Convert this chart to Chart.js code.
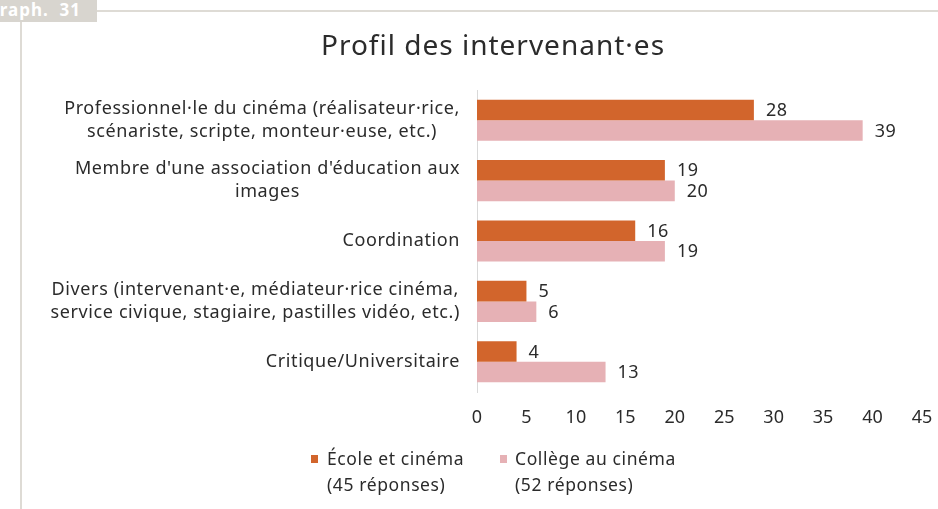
<!DOCTYPE html>
<html>
<head>
<meta charset="utf-8">
<script src="https://cdn.jsdelivr.net/npm/chart.js@4/dist/chart.umd.min.js"></script>
<style>
  html, body { margin: 0; padding: 0; background: #ffffff; }
  #wrap { position: relative; width: 938px; height: 509px; overflow: hidden; }
  #chart { position: absolute; left: 0; top: 0; }
  .tab { position: absolute; left: 0; top: 0; width: 97px; height: 22px; background: #d8d5cf; overflow: hidden; }
  .tab span { position: absolute; right: 16px; top: 0px; color: #ffffff; font: bold 17px "Noto Sans", sans-serif; line-height: 20px; white-space: nowrap; letter-spacing: 1px; }
  .hline { position: absolute; left: 97px; top: 10px; width: 841px; height: 2px; background: #dedbd5; }
  .vline { position: absolute; left: 20px; top: 22px; width: 2px; height: 487px; background: #dedbd5; }
</style>
</head>
<body>
<div id="wrap">
  <div class="tab"><span>Graph.&nbsp; 31</span></div>
  <div class="hline"></div>
  <div class="vline"></div>
  <canvas id="chart" width="938" height="509"></canvas>
</div>
<script>
// Categories (multi-line labels separated by \n)
const categories = [
  "Professionnel·le du cinéma (réalisateur·rice,\nscénariste, scripte, monteur·euse, etc.)",
  "Membre d'une association d'éducation aux\nimages",
  "Coordination",
  "Divers (intervenant·e, médiateur·rice cinéma,\nservice civique, stagiaire, pastilles vidéo, etc.)",
  "Critique/Universitaire"
];
const seriesNames = ["École et cinéma\n(45 réponses)", "Collège au cinéma\n(52 réponses)"];
const ecoleValues = [28, 19, 16, 5, 4];
const collegeValues = [39, 20, 19, 6, 13];
const xTicks = [0, 5, 10, 15, 20, 25, 30, 35, 40, 45];
const chartTitle = 'Profil des intervenant·es';

const FONT = '"Noto Sans", sans-serif';
const TEXT = '#2b2b2b';

// Title, centred above the plot
const titleText = {
  id: 'titleText',
  afterDraw(chart) {
    const { ctx } = chart;
    ctx.save();
    ctx.font = '28px ' + FONT;
    ctx.letterSpacing = '1px';
    ctx.fillStyle = TEXT;
    ctx.textAlign = 'center';
    ctx.textBaseline = 'middle';
    ctx.fillText(chartTitle, 493, 47);
    ctx.restore();
  }
};

// Category labels: block right-aligned to the axis, lines centred within the block
const categoryLabels = {
  id: 'categoryLabels',
  afterDraw(chart) {
    const { ctx, scales: { y } } = chart;
    ctx.save();
    ctx.font = '18px ' + FONT;
    ctx.letterSpacing = '0.6px';
    ctx.fillStyle = TEXT;
    ctx.textAlign = 'center';
    ctx.textBaseline = 'middle';
    const lh = 23;
    const right = chart.chartArea.left - 17;
    categories.forEach((lab, i) => {
      const lines = lab.split('\n');
      const w = Math.max(...lines.map(l => ctx.measureText(l).width));
      const cx = right - w / 2;
      const yc = y.getPixelForValue(i);
      const top = yc - (lines.length - 1) * lh / 2;
      lines.forEach((l, k) => ctx.fillText(l, cx, top + k * lh));
    });
    ctx.restore();
  }
};

// Value labels at the end of each bar
const valueLabels = {
  id: 'valueLabels',
  afterDatasetsDraw(chart) {
    const { ctx } = chart;
    ctx.save();
    ctx.font = '18px ' + FONT;
    ctx.letterSpacing = '0.5px';
    ctx.fillStyle = TEXT;
    ctx.textAlign = 'left';
    ctx.textBaseline = 'middle';
    chart.data.datasets.forEach((ds, di) => {
      chart.getDatasetMeta(di).data.forEach((bar, i) => {
        ctx.fillText(String(ds.data[i]), bar.x + 12, bar.y + 1);
      });
    });
    ctx.restore();
  }
};

// Two-line legend below the axis
const legendBlock = {
  id: 'legendBlock',
  afterDraw(chart) {
    const { ctx } = chart;
    const items = [{ box: 311, text: 327 }, { box: 500, text: 515 }];
    ctx.save();
    ctx.font = '17.5px ' + FONT;
    ctx.letterSpacing = '0.6px';
    ctx.textAlign = 'left';
    ctx.textBaseline = 'middle';
    chart.data.datasets.forEach((ds, i) => {
      const pos = items[i];
      ctx.fillStyle = ds.backgroundColor;
      ctx.fillRect(pos.box, 455, 7, 8);
      ctx.fillStyle = TEXT;
      ds.label.split('\n').forEach((l, k) => ctx.fillText(l, pos.text, 460 + k * 26));
    });
    ctx.restore();
  }
};

new Chart(document.getElementById('chart'), {
  type: 'bar',
  data: {
    labels: categories,
    datasets: [
      { label: seriesNames[0], data: ecoleValues, backgroundColor: '#d2652c', categoryPercentage: 0.68, barPercentage: 1.0 },
      { label: seriesNames[1], data: collegeValues, backgroundColor: '#e6b1b5', categoryPercentage: 0.68, barPercentage: 1.0 }
    ]
  },
  options: {
    indexAxis: 'y',
    responsive: false,
    animation: false,
    devicePixelRatio: 1,
    layout: { padding: { left: 0, right: 16, top: 90, bottom: 0 } },
    scales: {
      x: {
        min: 0, max: 45,
        afterBuildTicks(scale) { scale.ticks = xTicks.map(v => ({ value: v })); },
        afterFit(scale) { scale.height = 117; scale.paddingLeft = 0; scale.paddingRight = 0; },
        grid: { display: false, drawTicks: false },
        border: { display: false },
        ticks: { font: { family: FONT, size: 18 }, color: TEXT, padding: 15, maxRotation: 0 }
      },
      y: {
        grid: { display: false },
        border: { display: true, color: '#d9d9d9', width: 1 },
        ticks: { display: false },
        afterFit(scale) { scale.width = 477; }
      }
    },
    plugins: {
      title: { display: false },
      legend: { display: false },
      tooltip: { enabled: false }
    }
  },
  plugins: [titleText, categoryLabels, valueLabels, legendBlock]
});
</script>
</body>
</html>
